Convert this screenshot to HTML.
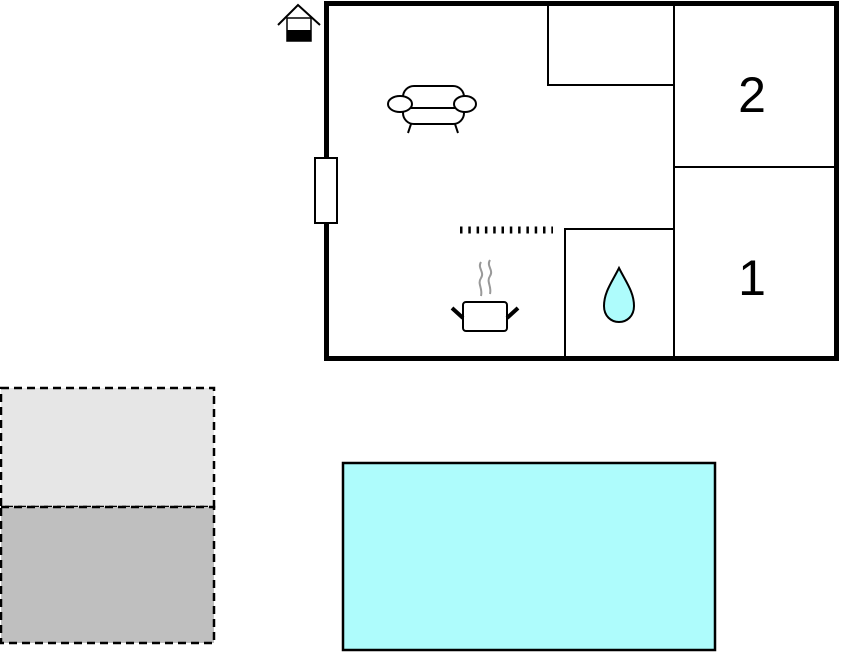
<!DOCTYPE html>
<html><head><style>html,body{margin:0;padding:0;background:#fff}svg{display:block}</style></head>
<body>
<svg width="841" height="652" viewBox="0 0 841 652" xmlns="http://www.w3.org/2000/svg">
<rect x="1" y="388" width="213" height="119" fill="#e6e6e6" stroke="#000" stroke-width="2.5" stroke-dasharray="8,5"/>
<rect x="1" y="507" width="213" height="136" fill="#bfbfbf" stroke="#000" stroke-width="2.5" stroke-dasharray="8,5"/>
<rect x="343" y="463" width="372" height="187" fill="#aefcfc" stroke="#000" stroke-width="2.5"/>
<rect x="326.5" y="3.5" width="510" height="355" fill="#fff" stroke="#000" stroke-width="5"/>
<g fill="none" stroke="#000" stroke-width="2">
<polyline points="548,3 548,85 674,85"/>
<line x1="674" y1="3" x2="674" y2="358"/>
<line x1="674" y1="167" x2="836" y2="167"/>
<polyline points="565,358 565,229 674,229"/>
</g>
<rect x="315" y="158" width="22" height="65" fill="#fff" stroke="#000" stroke-width="2"/>
<line x1="460" y1="230" x2="553" y2="230" stroke="#000" stroke-width="7" stroke-dasharray="2.5,5.8"/>
<text x="752" y="112" font-family="Liberation Sans, sans-serif" font-size="50" text-anchor="middle">2</text>
<text x="752" y="295" font-family="Liberation Sans, sans-serif" font-size="50" text-anchor="middle">1</text>
<path d="M619,268 C612,282 604,292 604,306 C604,316 611,322 619,322 C627,322 634,316 634,306 C634,292 626,282 619,268 Z" fill="#aefcfc" stroke="#000" stroke-width="2"/>
<polyline points="278,25 298,5 320,25" fill="none" stroke="#000" stroke-width="2"/>
<rect x="287" y="18" width="24" height="23" fill="#fff" stroke="#000" stroke-width="1.5"/>
<rect x="287" y="30" width="24" height="11" fill="#000"/>
<g fill="#fff" stroke="#000" stroke-width="2">
<line x1="411" y1="124" x2="408" y2="133"/><line x1="455" y1="124" x2="458" y2="133"/>
<rect x="403" y="86" width="61" height="38" rx="11"/>
<line x1="410" y1="108" x2="457" y2="108"/>
<ellipse cx="400" cy="104" rx="12" ry="8"/>
<ellipse cx="465" cy="104" rx="11" ry="8"/>
</g>
<g fill="none">
<path d="M481,262 c-4,6 4,10 0,16 c-4,6 2,10 0,18" stroke="#999" stroke-width="2"/>
<path d="M490,260 c-4,6 4,10 0,16 c-4,6 2,10 0,18" stroke="#999" stroke-width="2"/>
<rect x="463" y="302" width="44" height="29" rx="3" fill="#fff" stroke="#000" stroke-width="2"/>
<line x1="452" y1="308" x2="463" y2="318" stroke="#000" stroke-width="4"/>
<line x1="518" y1="308" x2="507" y2="318" stroke="#000" stroke-width="4"/>
</g>
</svg>
</body></html>
